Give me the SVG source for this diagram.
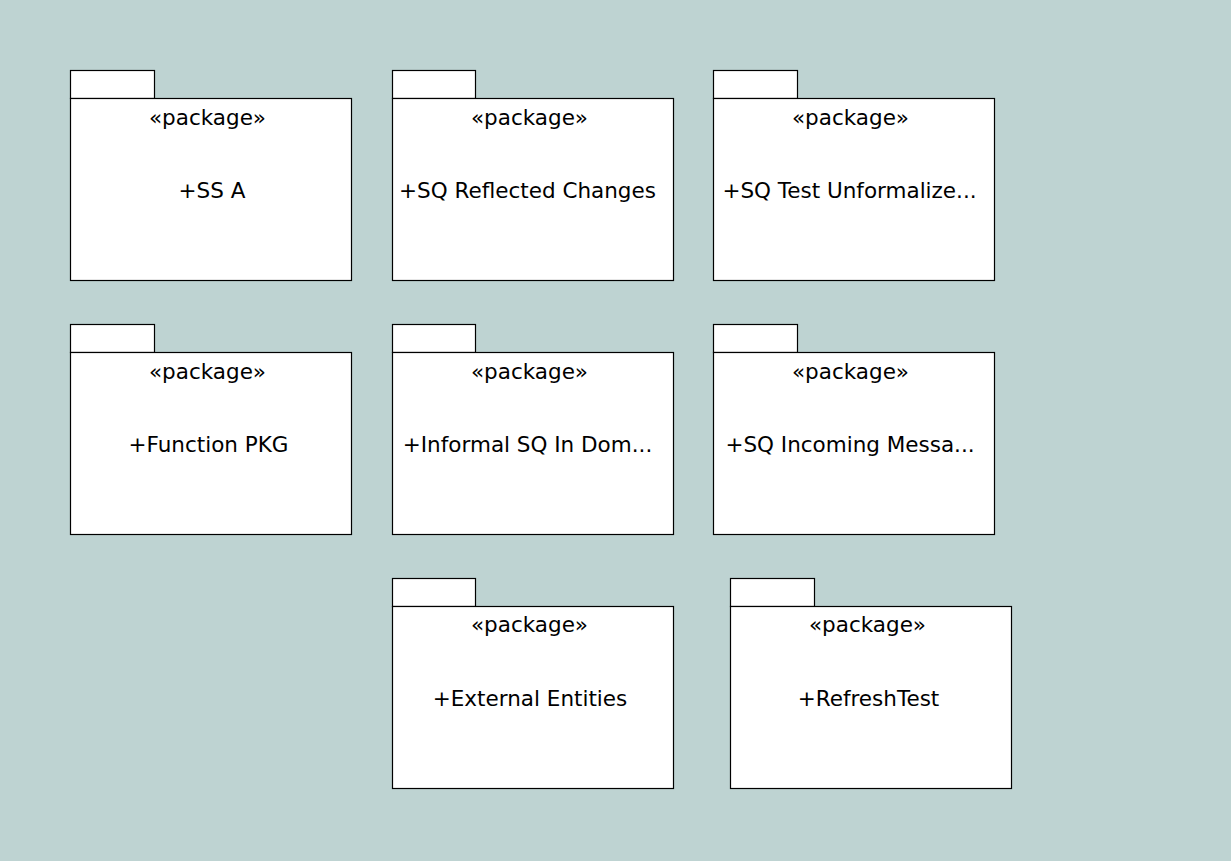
<svg xmlns="http://www.w3.org/2000/svg" width="1231" height="861" viewBox="0 0 1231 861">
<style>
.bg{fill:#bed3d2}
.tab,.body{fill:#ffffff;stroke:#000000;stroke-width:1.2}
.st,.nm{font-family:"DejaVu Sans","Liberation Sans",sans-serif;font-size:21.5px;fill:#000000;text-anchor:middle}
</style>
<rect class="bg" x="0" y="0" width="1231" height="861"/>
<g id="pkg-ssa">
<rect class="tab" x="70.5" y="70.5" width="84" height="28"/>
<rect class="body" x="70.5" y="98.5" width="281" height="182"/>
<text class="st" x="207.5" y="125">«package»</text>
<text class="nm" x="212" y="198">+SS A</text>
</g>
<g id="pkg-reflected">
<rect class="tab" x="392.5" y="70.5" width="83" height="28"/>
<rect class="body" x="392.5" y="98.5" width="281" height="182"/>
<text class="st" x="529.5" y="125">«package»</text>
<text class="nm" x="527.5" y="198">+SQ Reflected Changes</text>
</g>
<g id="pkg-unformalized">
<rect class="tab" x="713.5" y="70.5" width="84" height="28"/>
<rect class="body" x="713.5" y="98.5" width="281" height="182"/>
<text class="st" x="850.5" y="125">«package»</text>
<text class="nm" x="849.5" y="198">+SQ Test Unformalize...</text>
</g>
<g id="pkg-function">
<rect class="tab" x="70.5" y="324.5" width="84" height="28"/>
<rect class="body" x="70.5" y="352.5" width="281" height="182"/>
<text class="st" x="207.5" y="379">«package»</text>
<text class="nm" x="208.5" y="452">+Function PKG</text>
</g>
<g id="pkg-informal">
<rect class="tab" x="392.5" y="324.5" width="83" height="28"/>
<rect class="body" x="392.5" y="352.5" width="281" height="182"/>
<text class="st" x="529.5" y="379">«package»</text>
<text class="nm" x="527.5" y="452">+Informal SQ In Dom...</text>
</g>
<g id="pkg-incoming">
<rect class="tab" x="713.5" y="324.5" width="84" height="28"/>
<rect class="body" x="713.5" y="352.5" width="281" height="182"/>
<text class="st" x="850.5" y="379">«package»</text>
<text class="nm" x="850" y="452">+SQ Incoming Messa...</text>
</g>
<g id="pkg-external">
<rect class="tab" x="392.5" y="578.5" width="83" height="28"/>
<rect class="body" x="392.5" y="606.5" width="281" height="182"/>
<text class="st" x="529.5" y="632">«package»</text>
<text class="nm" x="530" y="706">+External Entities</text>
</g>
<g id="pkg-refresh">
<rect class="tab" x="730.5" y="578.5" width="84" height="28"/>
<rect class="body" x="730.5" y="606.5" width="281" height="182"/>
<text class="st" x="867.5" y="632">«package»</text>
<text class="nm" x="868.5" y="706">+RefreshTest</text>
</g>
<g id="connectors"></g>
</svg>
